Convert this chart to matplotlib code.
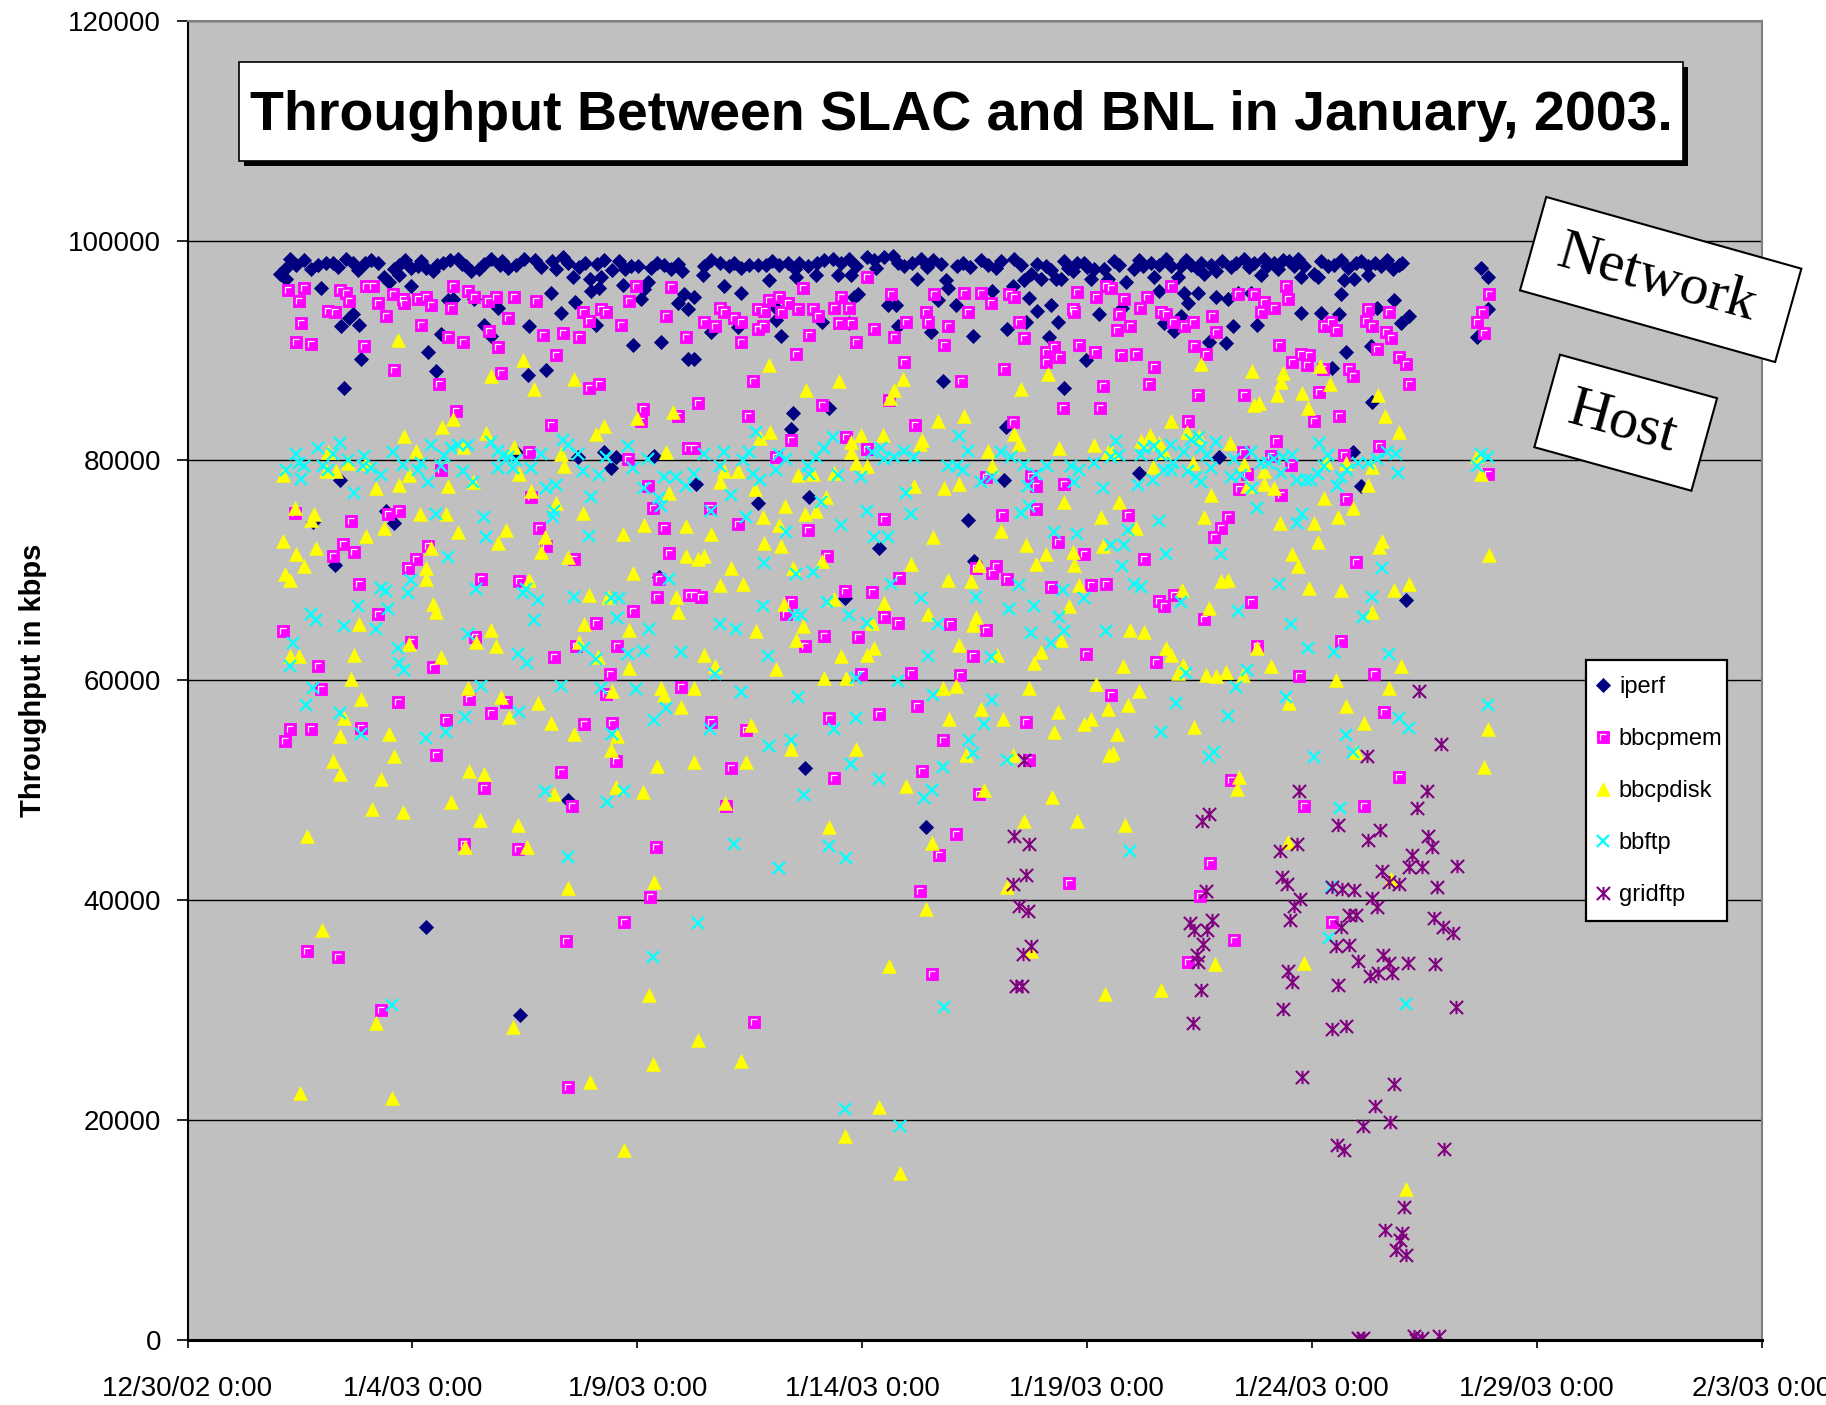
import math
from datetime import datetime, timedelta
import matplotlib
matplotlib.use("Agg")
import matplotlib.pyplot as plt
from matplotlib.path import Path
from matplotlib.patches import Rectangle, Polygon
from matplotlib.lines import Line2D

plt.rcParams['font.family'] = ['Liberation Sans', 'DejaVu Sans']

# ---------------- data ----------------
START = datetime(2002, 12, 30)
END = datetime(2003, 2, 3)
x_tick_labels = ["12/30/02 0:00", "1/4/03 0:00", "1/9/03 0:00", "1/14/03 0:00",
                 "1/19/03 0:00", "1/24/03 0:00", "1/29/03 0:00", "2/3/03 0:00"]
y_tick_values = [0, 20000, 40000, 60000, 80000, 100000, 120000]
series_labels = ["iperf", "bbcpmem", "bbcpdisk", "bbftp", "gridftp"]
title_text = "Throughput Between SLAC and BNL in January, 2003."
y_axis_label = "Throughput in kbps"
note_labels = ["Network", "Host"]

# (days since 12/30/02 0:00, throughput in kbps)
iperf_points = [
(2.27,98300),(2.42,97800),(2.60,98200),(2.75,97400),(2.90,97800),(3.08,98000),(3.23,98000),(3.53,98300),(3.68,98000),(3.94,98000),
(4.08,98200),(4.23,98000),(2.16,97400),(2.19,96500),(4.38,96700),(4.49,96200),(4.71,97800),(4.83,98200),(4.97,97500),(5.12,97700),
(5.31,97500),(5.45,97200),(5.68,98000),(5.83,98200),(6.01,98300),(6.20,97700),(6.31,97200),(6.49,97400),(6.75,98300),(6.94,97800),
(7.12,97500),(7.31,97800),(7.49,98300),(7.72,98200),(8.35,98500),(8.46,98000),(8.83,98000),(9.27,98200),(8.20,97400),(8.57,96700),
(8.94,96500),(9.20,96700),(8.97,95400),(9.16,95700),(9.72,97400),(9.86,97700),(10.01,97700),(10.60,97800),(10.75,97400),(10.23,96200),
(10.16,95600),(11.05,95100),(10.90,94300),(11.12,93800),(2.97,95700),(3.68,93300),(3.60,93000),(3.82,92300),(3.42,92200),(4.71,96900),
(4.97,95900),(5.79,94600),(5.90,94700),(6.38,94700),(6.90,93900),(7.60,92200),(8.31,93400),(8.61,94400),(9.09,92300),(9.68,96000),
(10.09,94700),(9.90,90500),(10.53,90800),(8.09,95200),(6.60,92300),(6.75,91300),(5.64,91500),(5.34,89900),(3.86,89200),(5.53,88100),
(7.57,87800),(7.97,88200),(3.49,86600),(9.27,80800),(9.42,79300),(9.53,80300),(10.38,80400),(8.68,80300),(7.31,80800),(3.38,78200),
(2.79,74400),(4.42,75400),(4.60,74300),(3.27,70500),(10.49,69400),(11.12,89200),(5.31,37600),(7.40,29600),(8.46,49100),
(2.05,97000),(3.35,97600),(3.80,97300),(4.60,97400),(5.20,98100),(5.55,97800),(6.10,97900),(6.60,97900),(7.00,98100),(7.85,97600),
(8.10,98100),(8.70,97600),(9.10,97900),(9.45,97300),(9.60,98100),(10.30,97500),(10.45,98000),(10.90,97900),(11.00,97200),
(11.49,97700),(11.83,98000),(12.05,97700),(12.16,98000),(12.49,97800),(12.68,97800),(12.86,97800),(13.16,97800),(13.35,98000),(13.60,98000),
(13.79,97700),(14.16,98200),(14.35,98300),(14.53,98000),(14.86,97700),(15.12,98500),(15.27,98200),(15.49,98500),(15.68,98600),(15.94,97700),
(16.12,98000),(16.31,98300),(16.57,98200),(17.12,97700),(17.24,98000),(17.64,98200),(17.79,97800),(17.98,97500),(18.38,98300),(18.53,97800),
(18.75,97000),(19.09,97700),(19.31,96500),(19.57,97500),(19.79,98000),(19.94,98000),(20.16,97400),(20.38,97400),(20.46,96500),(11.46,96900),
(11.94,95900),(12.31,95200),(12.94,96400),(13.53,96700),(13.98,96900),(14.46,96900),(14.75,96900),(14.83,94900),(14.90,95100),(15.31,97500),
(16.23,96500),(16.86,96400),(16.90,95700),(18.35,95900),(18.61,96400),(18.98,96500),(19.42,96500),(19.68,97200),(20.09,96500),(11.27,94900),
(11.64,91700),(12.23,92100),(13.09,92800),(13.20,91300),(14.12,92600),(13.09,93900),(14.72,92500),(15.57,94100),(15.75,94100),(15.79,92200),
(16.53,91700),(16.68,94600),(17.09,94100),(17.46,91300),(17.90,95400),(18.23,92000),(18.64,92600),(18.72,94800),(18.90,93600),(19.20,94100),
(19.35,92600),(19.98,89100),(20.27,93300),(19.16,91200),(11.27,89200),(13.46,84300),(13.42,82900),(16.79,87200),(19.49,86600),(18.20,83000),
(14.27,84800),(13.83,76700),(12.68,76100),(17.35,74600),(15.38,72000),(18.16,78200),(14.61,67500),(17.49,70900),(13.72,52000),(11.31,77900),
(16.42,46700),
(11.65,98200),(12.30,97500),(13.00,98100),(13.50,97400),(14.00,98000),(14.70,98300),(15.80,98000),(16.45,97600),(16.75,97900),(17.40,97600),
(18.10,98100),(18.90,97900),(19.20,97300),(19.50,98100),(20.00,97600),
(20.72,97800),(21.05,97400),(21.24,97700),(21.42,98000),(21.61,97800),(21.87,97700),(22.09,97700),(22.31,97800),(22.54,98000),(22.76,97800),
(22.87,97200),(23.31,98000),(23.50,98300),(23.72,98000),(23.94,98300),(24.17,98000),(24.35,98200),(24.61,97700),(24.83,97700),(25.05,97000),
(25.35,97700),(25.50,97800),(25.98,98000),(26.24,97700),(26.54,97700),(26.68,98200),(26.94,97800),(20.87,96200),(21.50,96700),(22.02,96700),
(22.61,97000),(23.87,96900),(24.76,96700),(25.13,96700),(25.72,96400),(25.94,96500),(26.24,96900),(28.76,97500),(28.91,96700),(20.79,93900),
(21.61,95400),(22.16,95200),(22.46,95200),(22.87,94900),(23.13,94700),(22.24,94300),(22.09,93100),(21.72,92500),(21.94,91800),(23.35,95200),
(23.65,95200),(23.79,92300),(23.24,92200),(22.72,90800),(23.09,90700),(24.76,93400),(25.20,93400),(25.61,93300),(25.65,95100),(26.83,94600),
(27.16,93100),(26.98,92500),(26.46,93900),(26.31,90400),(25.76,89900),(25.46,88400),(28.91,93800),(28.68,91200),(26.35,85300),(21.16,78900),
(22.94,80300),(26.09,77700),(25.91,80800),(27.09,67300),
(20.60,98100),(21.15,98200),(21.75,98300),(22.20,98200),(22.45,97500),(23.00,98100),(23.20,97600),(23.60,97600),(24.00,97700),(24.25,97400),
(24.50,98100),(24.70,98300),(25.20,98100),(25.65,98200),(25.80,97500),(26.10,98100),(26.40,98000),(26.80,97400),(27.00,98000),
]

bbcpmem_points = [
(2.23,95500),(2.60,95700),(3.38,95500),(3.53,95200),(2.49,94500),(3.12,93600),(3.27,93500),(3.60,94500),(3.97,95900),(4.12,95900),
(4.23,94300),(4.42,93100),(4.57,95100),(4.79,94700),(4.82,94300),(5.12,94700),(5.31,94900),(5.42,94100),(5.90,95900),(5.86,93900),
(6.23,95400),(6.38,94900),(6.68,94500),(6.86,94900),(7.27,94900),(7.75,94500),(2.53,92500),(2.42,90800),(2.75,90600),(3.92,90400),
(5.19,92300),(5.79,91200),(6.12,90800),(6.71,91800),(6.90,90300),(7.90,91400),(8.34,91600),(8.71,91200),(8.79,93500),(8.93,92700),
(9.19,93800),(9.31,93500),(9.64,92300),(9.82,94500),(9.97,95900),(10.64,93100),(10.75,95800),(11.08,91200),(7.12,93000),(8.19,89600),
(9.16,87000),(8.93,86600),(6.97,88000),(5.60,87000),(4.59,88200),(5.97,84500),(10.12,84700),(10.08,83600),(10.90,84000),(8.08,83200),
(7.60,80800),(9.79,80100),(5.64,79100),(11.12,81100),(10.23,77700),(7.64,76700),(10.34,75700),(10.60,73900),(10.71,71600),(2.38,75200),
(4.45,75100),(4.71,75400),(3.64,74500),(7.82,73900),(7.97,72200),(8.60,71000),(10.45,67600),(11.16,67800),(3.45,72400),(3.71,71700),
(3.23,71300),(5.08,71000),(4.90,70200),(5.34,72200),(6.53,69200),(7.38,69000),(10.49,69200),(3.82,68800),(4.23,66000),(9.08,65200),
(9.90,66300),(2.12,64500),(4.97,63500),(6.39,63900),(8.64,63100),(9.56,63100),(8.16,62100),(2.90,61300),(5.45,61200),(9.40,60600),
(10.97,59400),(2.97,59200),(9.31,58800),(4.68,58000),(6.27,58300),(6.75,57000),(7.08,58000),(5.75,56400),(8.82,56000),(9.45,56100),
(2.27,55600),(2.75,55600),(3.86,55700),(2.16,54500),(5.53,53200),(9.53,52700),(8.31,51700),
(6.60,50200),(6.14,45100),(7.34,44700),(8.55,48600),(10.42,44800),(10.28,40300),(9.70,38000),(8.42,36300),(2.66,35400),(3.34,34800),
(4.31,30000),(8.45,23000),
(15.12,96700),(13.68,95700),(15.64,95100),(16.61,95100),(17.27,95200),(17.64,95200),(18.27,95100),(18.38,94900),(19.79,95300),(20.20,94900),
(20.42,95900),(14.53,94900),(13.16,94900),(12.94,94600),(13.35,94300),(11.83,93900),(11.94,93500),(11.49,92600),(11.72,92200),(12.16,93000),
(12.31,92600),(12.68,93800),(12.83,93600),(13.20,93500),(13.57,93800),(13.90,93800),(14.01,93100),(14.38,93900),(14.72,93900),(14.49,92500),
(14.75,92500),(15.27,92000),(15.98,92600),(16.42,93500),(16.46,92600),(16.90,92200),(17.35,93500),(17.86,94300),(18.49,92600),(19.68,93800),
(19.72,93500),(12.68,92000),(12.79,92200),(13.83,91400),(12.31,90800),(13.53,89700),(14.86,90800),(15.72,91200),(15.94,89000),(16.83,90500),
(18.61,91100),(19.83,90500),(20.18,89900),(19.09,89900),(19.27,90300),(19.38,89400),(19.09,89000),(18.16,88300),(17.20,87200),(20.35,86800),
(19.46,84800),(20.29,84800),(11.35,85200),(12.57,87200),(12.46,84000),(14.12,85000),(15.60,85500),(16.18,83200),(14.64,82100),(13.42,81900),
(15.12,81000),(11.27,81100),(13.09,80300),(18.35,83500),(18.75,78600),(18.86,77700),(17.75,78500),(19.49,77900),(18.86,75600),(18.12,75000),
(11.61,75700),(15.49,74700),(13.79,73700),(12.23,74200),(19.35,72600),(19.94,71500),(14.23,71300),(17.53,70200),(17.98,70400),(17.90,69800),
(18.23,69200),(15.83,69300),(19.20,68500),(20.09,68700),(20.42,68800),(11.27,67800),(11.42,67600),(14.61,68100),(15.23,68000),(13.42,67100),
(13.31,66000),(15.49,65800),(15.79,65200),(16.96,65100),(17.75,64600),(14.16,64000),(14.90,63900),(13.72,63100),(17.46,62200),(19.98,62400),
(14.98,60600),(16.09,60700),(17.18,60500),(20.53,58700),(16.22,57700),(15.38,56900),(14.27,56600),(18.64,56200),(11.64,56200),(12.42,55500),
(16.79,54600),(12.09,52000),(16.33,51800),(18.72,52800),(14.38,51100),
(11.98,48600),(17.09,46000),(16.72,44100),(16.29,40800),(16.55,33300),(12.59,28900),(19.60,41600),(17.60,49700),
(20.53,95700),(21.87,95900),(24.42,95900),(24.46,94700),(23.35,95100),(23.72,95100),(20.82,94700),(21.34,94900),(21.17,93900),(21.65,93500),
(21.76,93300),(21.91,92600),(22.35,92600),(20.72,93300),(20.67,91900),(20.96,92200),(22.16,92200),(22.79,93100),(22.87,91700),(23.94,94400),
(24.17,93900),(23.87,93500),(26.24,93800),(26.72,93500),(26.20,92700),(26.35,92200),(26.65,91700),(26.76,91100),(25.42,92600),(25.28,92200),
(25.54,91900),(28.94,95100),(28.79,93500),(28.68,92600),(28.83,91600),(22.39,90400),(22.65,89700),(20.76,89600),(21.09,89700),(21.50,88500),
(24.28,90500),(24.57,89000),(24.76,89700),(24.94,89600),(24.90,88700),(21.39,87000),(22.46,86000),(23.50,86000),(25.17,86200),(25.24,88300),
(25.83,88300),(25.91,87700),(26.94,89400),(27.09,88800),(27.16,87000),(26.46,90100),(22.25,83600),(25.05,83600),(25.61,84000),(24.20,81800),
(23.46,80800),(26.50,81300),(25.72,80500),(24.09,80400),(24.54,79600),(23.57,78800),(28.91,78800),(23.39,77400),(24.31,76900),(25.76,76500),
(20.91,75000),(23.13,74900),(22.98,73900),(22.83,73000),(21.28,71000),(25.98,70800),(21.61,67200),(21.72,66800),(21.94,67800),(23.65,67100),
(22.61,65600),(25.65,63600),(23.79,63100),(21.54,61700),(24.72,60400),(26.39,60600),(26.61,57100),(23.20,50900),(26.94,51200),
(24.82,48600),(26.15,48600),(22.74,43400),(22.51,40400),(23.26,36400),(22.24,34400),(25.44,38000),
]

bbcpdisk_points = [
(4.68,91000),(7.47,89100),(6.75,87700),(7.71,86500),(8.59,87400),(5.90,83800),(5.65,83000),(4.82,82200),(6.64,82500),(9.27,83100),
(9.08,82400),(9.99,83900),(10.79,84400),(5.07,80900),(6.12,81200),(7.27,81200),(8.31,80600),(8.38,79500),(10.64,80800),(2.12,78700),
(3.12,80800),(3.08,79000),(3.56,79800),(3.31,79000),(3.97,79800),(4.93,78700),(4.19,77500),(4.71,77800),(5.79,77700),(6.34,78000),
(7.38,78800),(7.64,77200),(10.71,77000),(2.38,75700),(2.82,75100),(4.38,73900),(2.75,74600),(5.75,75100),(5.16,75100),(6.01,73500),
(7.08,73700),(8.19,76100),(7.94,73000),(8.79,75200),(9.68,73300),(10.16,74100),(11.08,74000),(2.12,72700),(2.42,71500),(2.86,72000),
(3.97,73100),(5.42,72000),(6.90,72500),(7.86,71700),(8.45,71200),(11.08,71300),(2.16,69700),(2.60,70400),(2.27,69100),(5.31,70200),
(5.31,69200),(9.90,69800),(7.60,69100),(8.93,67800),(9.34,67600),(10.86,67600),(5.45,66900),(5.53,66200),(10.90,66200),(3.82,65100),
(6.75,64600),(8.82,65100),(9.82,64600),(4.93,63300),(6.42,63500),(8.71,63500),(6.86,63100),(2.27,62200),(2.49,62200),(3.71,62300),
(9.12,62100),(5.64,62100),(9.82,61100),(3.64,60100),(6.23,59300),(6.97,58500),(9.45,59000),(10.53,59300),(10.60,58700),(3.86,58300),
(7.79,57900),(10.97,57600),(7.16,56700),(3.49,56600),(8.08,56100),(8.60,55100),(9.56,54900),(3.38,54900),(4.49,55100),(9.42,53700),
(3.23,52700),(4.60,53100),(6.27,51800),(6.60,51500),(10.45,52200),(3.38,51500),(4.31,51000),
(4.11,48300),(4.79,48000),(2.66,45800),(5.86,48900),(6.51,47300),(7.34,46800),(6.16,44800),(7.55,44800),(8.16,49700),(9.53,50300),
(10.12,49800),(8.45,41100),(10.38,41700),(2.99,37300),(4.19,28800),(7.23,28500),(10.27,31400),(10.36,25100),(8.96,23500),(2.51,22500),
(4.54,22000),(9.70,17300),
(12.92,88700),(13.75,86400),(14.48,87200),(15.92,87400),(15.72,86400),(15.63,85700),(18.53,86500),(19.14,87900),(16.69,83600),(17.27,84000),
(12.95,82600),(12.72,82000),(14.98,82300),(15.46,82300),(16.33,81900),(16.29,81500),(14.75,81700),(14.75,80800),(15.12,79500),(14.86,79800),
(17.79,80900),(17.90,79500),(18.38,82400),(18.49,81500),(19.38,81100),(20.16,81400),(20.46,80800),(11.94,79000),(12.23,79000),(11.83,78000),
(12.61,77400),(13.57,78700),(13.90,78800),(14.38,78900),(16.16,77700),(16.83,77500),(17.16,77900),(19.49,76200),(13.29,75900),(12.79,74900),
(13.72,75100),(13.98,75400),(14.20,76700),(13.16,74100),(11.64,73300),(16.57,73000),(18.09,73600),(18.64,72300),(20.31,74900),(20.35,72200),
(12.83,72500),(13.20,72200),(11.35,71000),(11.49,71300),(12.09,70200),(14.12,70900),(16.09,70600),(19.09,71500),(19.68,71700),(19.72,70500),
(17.60,70500),(18.86,70600),(11.83,68700),(12.35,68800),(13.27,66900),(13.46,70200),(16.90,69100),(17.42,69000),(19.83,68700),(14.38,67400),
(15.49,67000),(16.46,66000),(17.53,65800),(19.60,66800),(13.68,64900),(12.64,64500),(15.23,65200),(17.46,65000),(13.53,63700),(19.42,63700),
(11.49,62300),(14.53,62200),(15.27,62900),(15.12,62300),(17.16,63200),(18.98,62600),(18.83,61600),(18.01,62300),(11.72,61300),(13.09,61000),
(14.16,60200),(14.64,60200),(11.27,59300),(16.79,59300),(17.09,59500),(18.72,59300),(20.20,59700),(17.64,57400),(18.14,56500),(16.94,56500),
(19.35,57100),(19.94,56000),(20.09,56500),(20.46,57400),(12.53,55900),(19.27,55300),(13.42,53800),(14.86,53800),(11.27,52600),(12.42,52600),
(17.31,53200),(20.49,53200),(18.35,53200),
(15.98,50400),(17.72,50000),(19.22,49400),(11.96,48800),(14.27,46700),(18.61,47200),(19.79,47200),(16.55,45200),(18.23,41200),(16.42,39200),
(18.75,35400),(15.59,34000),(20.41,31500),(11.35,27300),(12.31,25400),(15.38,21200),(14.62,18600),(15.84,15200),
(22.54,88800),(23.68,88100),(24.37,88000),(24.31,87100),(25.41,87000),(24.22,86000),(24.78,86100),(23.72,85000),(23.83,85200),(24.91,84800),
(26.48,86000),(25.19,88600),(26.62,84000),(26.93,82600),(21.87,83600),(22.22,82600),(22.50,82100),(21.20,81800),(21.41,82300),(21.61,81600),
(21.72,80800),(20.55,80800),(23.19,81600),(21.48,79400),(22.35,79800),(23.50,79700),(23.94,79000),(24.17,77500),(23.94,77900),(23.57,77700),
(25.31,79900),(25.76,79800),(26.35,79400),(26.24,77800),(22.76,76900),(20.72,76200),(25.28,76600),(25.91,75700),(25.59,74900),(22.61,74900),
(24.30,74300),(25.05,74300),(21.09,73900),(26.57,72700),(26.50,72100),(25.14,72600),(24.57,71500),(24.70,70400),(28.94,71400),(22.98,69000),
(23.13,69100),(24.94,68400),(25.65,68200),(26.83,68200),(27.16,68800),(22.11,68200),(22.72,66600),(26.35,66200),(20.96,64600),(21.28,64400),
(21.76,62900),(21.88,62300),(23.79,62900),(20.80,61300),(22.13,61400),(22.02,60700),(22.65,60500),(22.87,60400),(23.09,60800),(23.48,60500),
(24.09,61300),(25.54,60000),(26.98,61300),(21.15,59000),(20.91,57800),(24.50,57900),(25.77,57700),(26.71,59300),(26.15,56100),(20.67,55100),
(22.39,55800),(20.57,53400),(28.91,55600),(28.83,52100),(25.98,53500),(23.39,51200),(28.68,80400),(28.76,78800),
(23.34,50100),(20.85,46800),(24.46,45300),(26.76,41900),(22.85,34200),(24.83,34300),(21.65,31800),(27.09,13700),
]

bbftp_points = [
(2.42,80600),(2.90,81100),(3.38,81600),(3.23,80600),(2.49,79800),(2.60,79500),(2.19,79100),(2.53,78300),(3.01,79500),(3.12,79100),
(3.56,80000),(3.93,80400),(3.90,79500),(4.08,79300),(4.31,78700),(3.71,77000),(4.56,80800),(4.79,79600),(5.12,79100),(5.34,78000),
(5.42,81400),(5.19,79800),(5.71,80400),(5.86,81100),(6.01,81400),(6.23,81400),(5.64,79500),(6.12,79000),(6.34,78000),(6.75,81700),
(6.90,80900),(7.01,80400),(7.12,80300),(6.90,79300),(7.23,79300),(7.31,80000),(7.64,79300),(7.86,80600),(7.97,77500),(8.19,77800),
(8.34,81900),(8.45,81400),(8.68,80600),(8.79,79000),(9.16,78700),(8.97,76700),(9.31,80300),(9.79,81300),(9.90,79300),(10.23,80100),
(10.60,78500),(10.86,78500),(11.08,77700),(10.49,76600),(10.53,75900),(10.16,77500),(5.53,75100),(6.60,74900),(6.64,73000),(8.16,75400),
(8.12,74900),(8.93,73100),(5.79,71200),(10.71,69200),(4.31,68400),(4.42,68100),(4.90,67900),(4.97,69100),(6.42,68300),(7.53,68300),
(7.45,67900),(7.79,67300),(8.60,67600),(9.42,67500),(9.60,67500),(9.56,65700),(10.27,64700),(3.79,66800),(4.45,66500),(2.75,66000),
(2.86,65500),(3.49,64900),(4.19,64700),(7.71,65500),(6.23,64200),(2.34,63400),(4.68,62900),(4.71,61600),(4.82,60900),(2.27,61300),
(8.82,62900),(9.08,61900),(7.34,62400),(7.56,61600),(9.79,62400),(10.12,62700),(10.97,62600),(2.79,59300),(2.64,57800),(6.53,59500),
(8.31,59500),(9.19,59300),(9.97,59200),(10.64,57500),(3.38,57000),(6.16,56700),(7.38,57100),(3.86,55100),(5.31,54800),(5.75,55300),
(9.45,55100),(10.38,56400),
(7.94,49900),(9.33,48900),(9.70,49900),(8.45,43900),(10.36,34800),(4.54,30500),
(11.49,80600),(11.94,80800),(11.83,79500),(11.27,78800),(12.49,80800),(12.35,80000),(12.57,78800),(12.72,78200),(12.64,82600),(13.09,79100),
(13.16,80600),(13.31,80100),(13.79,79500),(13.83,78800),(13.98,80300),(14.16,81100),(14.35,82100),(14.46,78700),(14.98,78500),(15.23,80800),
(15.42,81100),(15.49,80100),(15.72,80300),(15.94,80900),(16.16,80300),(15.98,77000),(16.09,75100),(16.90,79500),(17.12,79500),(17.24,79100),
(17.16,82200),(17.35,80900),(17.64,78000),(17.90,78500),(18.09,80800),(18.31,80300),(18.61,79600),(18.86,78800),(19.12,79500),(19.64,79500),
(19.83,79100),(20.16,79800),(20.35,77500),(19.72,78000),(18.68,77700),(18.53,75200),(18.72,75900),(14.09,76200),(12.09,76900),(11.64,75400),
(12.42,74900),(15.12,75400),(14.53,74100),(13.31,73500),(15.27,73000),(15.57,73000),(19.27,73500),(19.79,73300),(12.83,70700),(13.53,69700),
(13.90,69900),(15.64,68800),(16.31,67500),(17.53,67600),(18.49,68700),(19.46,68200),(19.94,67500),(12.79,66800),(14.23,67100),(14.72,65900),
(13.49,65900),(13.64,65900),(18.27,66500),(18.83,66800),(11.83,65100),(12.20,64700),(15.12,65200),(16.68,65100),(19.38,65800),(20.42,64500),
(19.49,64500),(18.75,64300),(19.20,63400),(12.90,62200),(16.46,62200),(17.86,62100),(11.72,60600),(14.86,60200),(15.79,59900),(12.31,58900),
(13.57,58500),(16.57,58700),(17.90,58200),(14.86,56600),(17.72,56000),(14.38,55600),(11.61,55600),(13.42,54600),(12.94,54000),(17.38,54600),
(17.46,53400),(14.75,52400),(16.79,52100),(18.23,52800),(15.38,51000),
(13.70,49600),(16.38,49300),(16.55,50000),(12.16,45100),(14.27,44900),(14.64,43800),(13.16,42900),(11.35,37900),(16.83,30300),(14.61,21000),
(15.84,19500),
(20.65,81800),(21.28,81100),(21.50,81300),(21.87,81400),(22.31,81900),(22.50,82100),(22.87,81700),(23.28,80100),(23.65,80800),(23.87,79800),
(24.02,79800),(24.17,80100),(24.35,80300),(24.57,80500),(20.54,80300),(20.72,80500),(21.20,80500),(21.65,80500),(21.91,79800),(22.16,80800),
(22.54,81100),(22.68,80500),(22.76,79300),(22.24,79000),(21.72,79100),(21.87,79100),(21.13,77800),(21.46,78200),(22.42,78500),(22.54,78000),
(23.20,78500),(23.42,78700),(23.68,77500),(24.31,78900),(24.68,78200),(24.87,78200),(24.98,78200),(25.16,81600),(25.35,80500),(25.13,78800),
(25.28,79500),(25.65,78500),(25.79,79100),(25.57,77700),(26.02,79800),(26.24,79800),(26.46,80100),(26.68,80800),(26.87,80600),(26.91,78900),
(28.76,80600),(28.91,80300),(28.68,79500),(23.79,75700),(21.61,74500),(20.91,73700),(20.54,72300),(20.83,72300),(24.79,75100),(24.68,74300),
(21.76,71500),(22.98,71500),(20.79,70400),(26.57,70200),(21.05,68800),(21.20,68500),(24.28,68800),(26.35,67600),(22.09,67100),(23.35,66300),
(26.13,65800),(24.54,65100),(24.91,62900),(25.50,62600),(26.72,62400),(22.20,60700),(23.57,60900),(23.31,59400),(24.42,58500),(21.98,57900),
(23.13,56800),(21.65,55300),(25.76,55000),(26.94,56600),(27.16,55700),(28.91,57800),(22.83,53500),(22.72,53000),(25.05,53000),(25.91,53500),
(20.96,44500),(25.63,48400),(25.42,41200),(25.39,36600),(27.09,30600),
]

gridftp_points = [
(18.38,45800),(18.72,45100),(18.64,42300),(18.35,41500),(18.48,39500),(18.68,39000),(18.75,35800),(18.57,35100),(18.42,32200),(18.55,32200),
(18.59,52800),(27.39,59000),(27.87,54200),(26.22,53100),
(24.71,49900),(27.56,49900),(27.34,48400),(22.72,47800),(22.56,47200),(25.59,46800),(26.52,46400),(26.26,45500),(24.67,45100),(24.30,44500),
(27.59,45800),(27.67,44800),(27.22,44100),(28.24,43100),(26.57,42700),(27.16,43000),(27.46,43000),(24.33,42100),(24.45,41500),(22.65,40800),
(25.46,41200),(25.68,41000),(25.94,40900),(26.72,41700),(26.94,41500),(27.79,41200),(26.35,40200),(26.45,39400),(24.74,40100),(24.61,39500),
(24.52,38200),(22.30,37900),(22.39,37300),(22.67,37300),(22.78,38200),(22.59,36000),(22.45,35000),(22.48,34400),(25.83,38700),(25.98,38700),
(25.65,37600),(25.83,35900),(25.53,35800),(27.71,38400),(27.91,37600),(28.15,37000),(26.59,35000),(26.72,34300),(26.79,33400),(27.13,34300),
(27.74,34200),(26.02,34500),(26.30,33100),(26.48,33400),(24.48,33600),(24.57,32600),(25.59,32300),(22.53,31800),(28.20,30300),(24.37,30100),
(22.35,28800),(25.77,28600),(25.45,28300),(24.78,23900),(26.83,23300),(26.40,21300),(26.14,19500),(26.74,19800),(25.56,17700),(25.72,17300),
(27.94,17400),(27.04,12100),(26.62,10000),(27.00,9700),(26.96,9100),(26.87,8200),(27.09,7700),
(26.02,200),(26.08,0),(26.13,200),(27.27,400),(27.32,0),(27.46,200),(27.83,400),
]

# ---------------- figure ----------------
W, H = 1826, 1405
fig = plt.figure(figsize=(W / 100, H / 100), dpi=100)
AX_L, AX_R, AX_T, AX_B = 187.5, 1761.5, 20.7, 1340.0
ax = fig.add_axes([AX_L / W, 1 - AX_B / H, (AX_R - AX_L) / W, (AX_B - AX_T) / H])
ax.set_facecolor('#C0C0C0')


def unpack(points):
    xs = [START + timedelta(days=d) for d, v in points]
    ys = [v for d, v in points]
    return xs, ys


GAMMA = Path([(-1, -1), (-1, 1), (1, 1)], [Path.MOVETO, Path.LINETO, Path.LINETO])
ASTER = Path([(-1, -1), (1, 1), (-1, 1), (1, -1), (0, -1), (0, 1)],
             [Path.MOVETO, Path.LINETO, Path.MOVETO, Path.LINETO, Path.MOVETO, Path.LINETO])

style_iperf = dict(marker='D', ms=6.8, mfc='#000080', mec='#000080', mew=0.6)
style_mem = dict(marker='s', ms=8.2, mfc='#FF00FF', mec='#FF00FF', mew=0.6)
style_mem_in = dict(marker=GAMMA, ms=4.2, mfc='none', mec='white', mew=0.9)
style_disk = dict(marker='^', ms=10, mfc='#FFFF00', mec='#FFFF00', mew=0.4)
style_bbftp = dict(marker='x', ms=8.6, mec='#00FFFF', mew=1.6)
style_grid = dict(marker=ASTER, ms=9.5, mfc='none', mec='#800080', mew=1.5)

x, y = unpack(iperf_points)
ax.plot(x, y, ls='none', **style_iperf)
x, y = unpack(bbcpmem_points)
ax.plot(x, y, ls='none', **style_mem)
ax.plot(x, y, ls='none', **style_mem_in)
x, y = unpack(bbcpdisk_points)
ax.plot(x, y, ls='none', **style_disk)
x, y = unpack(bbftp_points)
ax.plot(x, y, ls='none', **style_bbftp)
x, y = unpack(gridftp_points)
ax.plot(x, y, ls='none', **style_grid)

ax.set_xlim(START, END)
ax.set_ylim(y_tick_values[0], y_tick_values[-1])
ax.set_xticks([START + timedelta(days=5 * i) for i in range(len(x_tick_labels))])
ax.set_xticklabels(x_tick_labels)
ax.set_yticks(y_tick_values)
ax.set_yticklabels([str(v) for v in y_tick_values])
ax.grid(axis='y', color='black', lw=1.0)
ax.grid(axis='x', visible=False)
ax.set_axisbelow(True)
ax.tick_params(axis='y', direction='out', length=8, width=1.2, pad=11, labelsize=20, colors='black')
ax.tick_params(axis='x', direction='out', length=6, width=1.2, pad=20, labelsize=20, colors='black')
for s in ['top', 'right']:
    ax.spines[s].set_color('#808080')
    ax.spines[s].set_linewidth(1.5)
ax.spines['left'].set_color('black')
ax.spines['left'].set_linewidth(1.5)
ax.spines['bottom'].set_color('black')
ax.spines['bottom'].set_linewidth(2.2)

ax.set_ylabel(y_axis_label, fontsize=21, fontweight='bold')
ax.yaxis.set_label_coords((47 - AX_L) / (AX_R - AX_L), 0.5)

# ---------------- title box ----------------
TB_L, TB_T, TB_R, TB_B = 239, 62, 1683, 161
fig.add_artist(Rectangle(((TB_L + 5) / W, 1 - (TB_B + 5) / H), (TB_R - TB_L) / W, (TB_B - TB_T) / H,
                         transform=fig.transFigure, fc='black', ec='none', zorder=1))
fig.add_artist(Rectangle((TB_L / W, 1 - TB_B / H), (TB_R - TB_L) / W, (TB_B - TB_T) / H,
                         transform=fig.transFigure, fc='white', ec='black', lw=1.2, zorder=1.1))
fig.text((TB_L + TB_R) / 2 / W, 1 - 130.5 / H, title_text, ha='center', va='baseline',
         fontsize=40, fontweight='bold', zorder=3)


# ---------------- rotated note boxes ----------------
def rotated_box(cx, cy, w, h, ang):
    a = math.radians(ang)
    ux, uy = math.cos(a), math.sin(a)
    vx, vy = -math.sin(a), math.cos(a)
    pts = []
    for su, sv in [(-1, -1), (1, -1), (1, 1), (-1, 1)]:
        px = cx + su * ux * w / 2 + sv * vx * h / 2
        py = cy + su * uy * w / 2 + sv * vy * h / 2
        pts.append((px / W, 1 - py / H))
    return pts


notes = [(note_labels[0], 1660.7, 279.5, 265, 97, 15.7),
         (note_labels[1], 1625.7, 422.7, 163, 96, 15.5)]
for label, cx, cy, bw, bh, ang in notes:
    fig.add_artist(Polygon(rotated_box(cx, cy, bw, bh, ang), closed=True, transform=fig.transFigure,
                           fc='white', ec='black', lw=1.5, zorder=1.2))
    fig.text(cx / W - 0.002, 1 - cy / H, label, rotation=-ang, rotation_mode='anchor', ha='center',
             va='center', fontsize=42, family=['Liberation Serif', 'DejaVu Serif'], zorder=3)

# ---------------- legend ----------------
LG_L, LG_T, LG_R, LG_B = 1586, 660, 1727, 921
fig.add_artist(Rectangle((LG_L / W, 1 - LG_B / H), (LG_R - LG_L) / W, (LG_B - LG_T) / H,
                         transform=fig.transFigure, fc='white', ec='black', lw=1.6, zorder=4))
handles = [
    Line2D([], [], ls='none', **style_iperf),
    (Line2D([], [], ls='none', **style_mem), Line2D([], [], ls='none', **style_mem_in)),
    Line2D([], [], ls='none', **style_disk),
    Line2D([], [], ls='none', **style_bbftp),
    Line2D([], [], ls='none', **style_grid),
]
leg = fig.legend(handles, series_labels, loc='upper left',
                 bbox_to_anchor=(1595.5 / W, 1 - 676 / H), frameon=False, fontsize=17,
                 handlelength=0.64, handletextpad=0.35, labelspacing=1.27,
                 borderpad=0, borderaxespad=0)
leg.set_zorder(5)

fig.savefig('out.png', dpi=100)
